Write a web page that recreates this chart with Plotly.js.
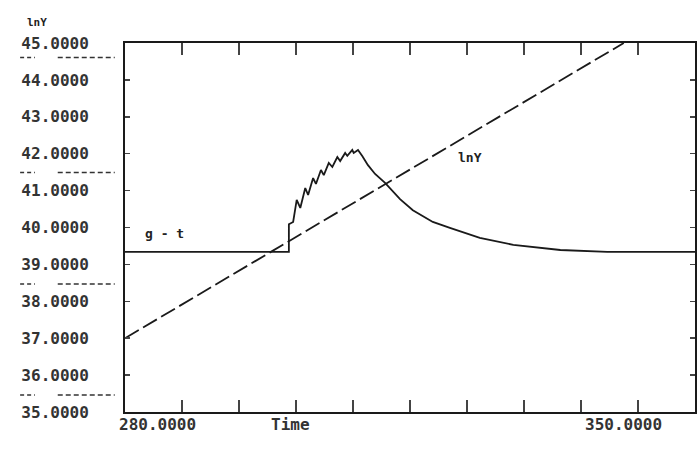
<!DOCTYPE html>
<html>
<head>
<meta charset="utf-8">
<script src="https://cdn.plot.ly/plotly-3.0.1.min.js"></script>
<style>html,body{margin:0;padding:0;background:#fff;}#chart{width:700px;height:450px;}</style>
</head>
<body>
<div id="chart"></div>
<script>
// ---- data ----
const lnYTime = [280, 350];
const lnYValues = [37.0, 45.0];

const gtTime = [280, 303.0, 303.0, 303.6, 304.1, 304.6, 305.3, 305.7, 306.4, 306.8, 307.5, 307.9,
  308.6, 309.1, 309.8, 310.2, 310.9, 311.2, 311.9, 312.1, 312.7, 313.3, 314.1, 315.1, 316.5,
  318.6, 320.4, 323.2, 325.6, 329.8, 334.5, 337.8, 341.1, 347.7, 360];
const gtValues = [39.34, 39.34, 40.09, 40.15, 40.75, 40.53, 41.07, 40.88, 41.34, 41.18, 41.56, 41.42,
  41.75, 41.64, 41.91, 41.80, 42.02, 41.94, 42.10, 42.02, 42.10, 41.94, 41.69, 41.45, 41.21,
  40.77, 40.47, 40.15, 39.99, 39.72, 39.53, 39.47, 39.39, 39.34, 39.34];

const yTickVals = [35, 36, 37, 38, 39, 40, 41, 42, 43, 44, 45];
const yTickText = ["35.0000", "36.0000", "37.0000", "38.0000", "39.0000", "40.0000",
  "41.0000", "42.0000", "43.0000", "44.0000", "45.0000"];
const xTickVals = [288, 296, 304, 312, 320, 328, 336, 344, 352];
const xLabelVals = [280, 350];
const xLabelText = ["280.0000", "350.0000"];
const seriesNames = ["lnY", "g - t"];

const ink = "#1a1a1a";
const monoBold = {family: "DejaVu Sans Mono", size: 16, color: "#333", weight: "bold"};

const traces = [
  {x: lnYTime, y: lnYValues, mode: "lines", name: seriesNames[0],
   line: {color: ink, width: 1.8, dash: "16px,5px"}},
  {x: gtTime, y: gtValues, mode: "lines", name: seriesNames[1],
   line: {color: ink, width: 1.8}}
];

const annotations = [
  {x: 285.6, y: 39.85, xref: "x", yref: "y", text: seriesNames[1], showarrow: false,
   font: {family: "DejaVu Sans Mono", size: 13, color: "#222", weight: "bold"}},
  {x: 328.4, y: 41.9, xref: "x", yref: "y", text: seriesNames[0], showarrow: false,
   font: {family: "DejaVu Sans Mono", size: 13, color: "#222", weight: "bold"}},
  {x: -0.175, y: 1.078, xref: "paper", yref: "paper", text: "lnY", showarrow: false,
   font: {family: "DejaVu Sans Mono", size: 11, color: "#222", weight: "bold"}},
  {x: 303.2, y: -0.065, xref: "x", yref: "paper", text: "Time", showarrow: false,
   font: monoBold}
];
xLabelVals.forEach((v, i) => {
  annotations.push({x: v + (i === 0 ? 4.6 : 0), y: -0.065, xref: "x", yref: "paper",
    text: xLabelText[i], showarrow: false, font: monoBold});
});

// decorative dashed marks to the left of the axis, as in the reference
const shapes = [];
[0.961, 0.649, 0.347, 0.046].forEach(yp => {
  shapes.push({type: "line", xref: "paper", yref: "paper", x0: -0.184, x1: -0.158, y0: yp, y1: yp,
    line: {color: "#333", width: 1.5, dash: "4px,3px"}});
  shapes.push({type: "line", xref: "paper", yref: "paper", x0: -0.118, x1: -0.018, y0: yp, y1: yp,
    line: {color: "#333", width: 1.5, dash: "5px,3px"}});
});

const layout = {
  width: 700, height: 450,
  margin: {l: 125, r: 5, t: 43, b: 38},
  paper_bgcolor: "#fff", plot_bgcolor: "#fff",
  showlegend: false,
  xaxis: {range: [280, 360], showline: true, linecolor: ink, linewidth: 2, mirror: "ticks",
    ticks: "inside", tickvals: xTickVals, ticklen: 12, tickwidth: 1.5, tickcolor: "#444",
    showticklabels: false, showgrid: false, zeroline: false},
  yaxis: {range: [35, 45], showline: true, linecolor: ink, linewidth: 2, mirror: "ticks",
    ticks: "inside", tickvals: yTickVals, ticktext: yTickText, ticklen: 5, tickwidth: 1.5,
    tickcolor: "#444", tickfont: monoBold, ticklabelstandoff: 31,
    showgrid: false, zeroline: false},
  annotations: annotations,
  shapes: shapes
};

Plotly.newPlot("chart", traces, layout, {staticPlot: true, displayModeBar: false});
</script>
</body>
</html>
